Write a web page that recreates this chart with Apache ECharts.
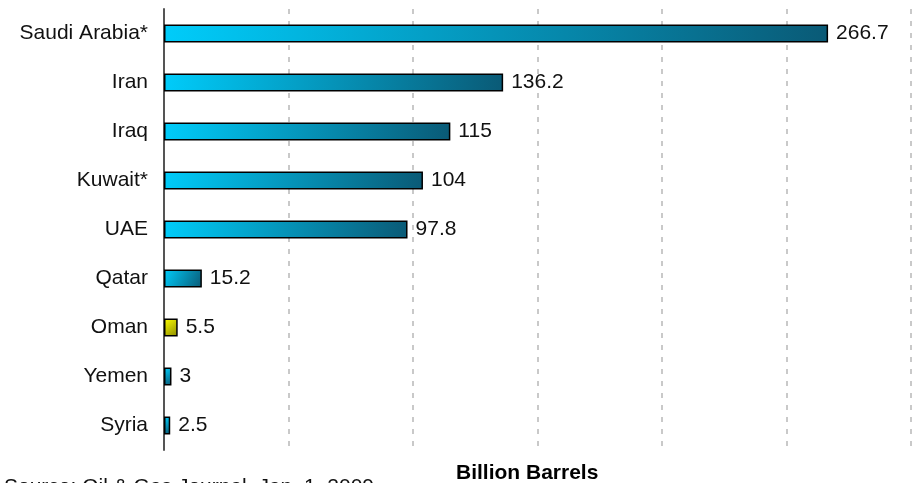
<!DOCTYPE html>
<html>
<head>
<meta charset="utf-8">
<script src="https://cdn.jsdelivr.net/npm/echarts@6/dist/echarts.min.js"></script>
<style>
  html, body { margin: 0; padding: 0; background: #fff; }
  #box { width: 917px; height: 483px; }
</style>
</head>
<body>
<div id="box"></div>
<script>
const aCountry = ['Saudi Arabia*', 'Iran', 'Iraq', 'Kuwait*', 'UAE', 'Qatar', 'Oman', 'Yemen', 'Syria'];
const aReserves = [266.7, 136.2, 115, 104, 97.8, 15.2, 5.5, 3, 2.5];
const sHighlight = 'Oman'; // 黄色那根
const sAxisName = 'Billion Barrels';
const sSource = 'Source: Oil & Gas Journal, Jan. 1, 2009';

const sFont = 'Arial, "Liberation Sans", sans-serif';

function gradient(sFrom, sTo){
    return new echarts.graphic.LinearGradient(0, 0, 1, 1, [
        { offset: 0, color: sFrom },
        { offset: 1, color: sTo },
    ]);
}

const oBlue = gradient('#00ccfa', '#0a5a76');
const oYellow = gradient('#ffff00', '#8a8a00');

const myChart = echarts.init(document.getElementById('box'));

const option = {
    animation: false,
    grid: {
        left: 164,
        right: 6,
        top: 9,
        bottom: 33,
        containLabel: false,
    },
    xAxis: {
        type: 'value',
        min: 0,
        max: 300,
        interval: 50,
        axisLabel: { show: false },
        axisLine: { show: false },
        axisTick: { show: false },
        splitLine: {
            show: true,
            lineStyle: { color: '#b8b8b8', width: 1.5, type: [5, 7] },
        },
    },
    yAxis: {
        type: 'category',
        inverse: true,
        data: aCountry,
        axisTick: { show: false },
        axisLine: { show: true, lineStyle: { color: '#555', width: 2 } },
        axisLabel: {
            margin: 16,
            color: '#111',
            fontSize: 21,
            fontFamily: sFont,
        },
    },
    series: [{
        type: 'bar',
        barWidth: 18,
        data: aReserves.map((v, i) => ({
            value: v,
            itemStyle: { color: aCountry[i] === sHighlight ? oYellow : oBlue },
        })),
        itemStyle: { borderColor: '#000', borderWidth: 1.5 },
        label: {
            show: true,
            position: 'right',
            distance: 8,
            color: '#111',
            fontSize: 21,
            fontFamily: sFont,
        },
    }],
    graphic: [{
        type: 'text',
        left: 530 - 74,
        top: 463,
        style: {
            text: sAxisName,
            fontSize: 21,
            fontWeight: 'bold',
            fontFamily: sFont,
            fill: '#000',
        },
    }, {
        type: 'text',
        left: 4,
        top: 477,
        style: {
            text: sSource,
            fontSize: 21,
            fontFamily: sFont,
            fill: '#111',
        },
    }],
};

myChart.setOption(option);
</script>
</body>
</html>
